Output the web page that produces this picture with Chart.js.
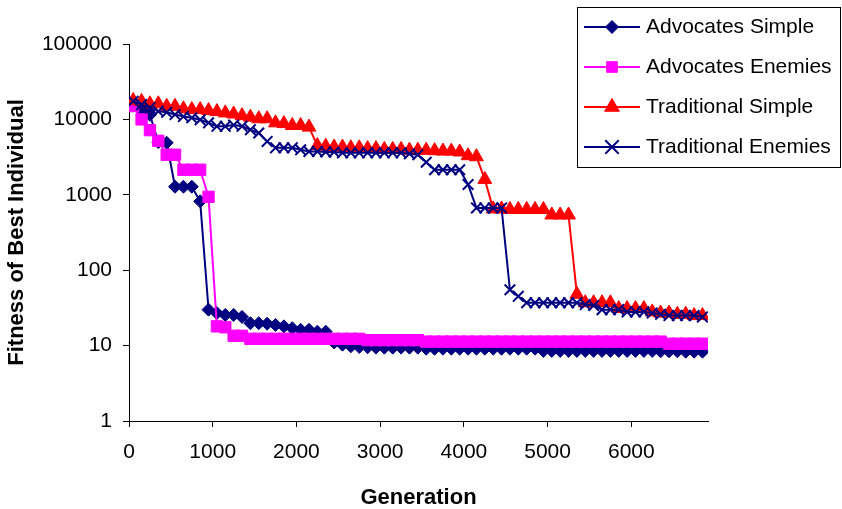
<!DOCTYPE html>
<html>
<head>
<meta charset="utf-8">
<script src="https://cdn.jsdelivr.net/npm/chart.js@4.4.1/dist/chart.umd.min.js"></script>
<style>
  html, body { margin: 0; padding: 0; background: #fff; }
  #wrap { width: 842px; height: 509px; position: relative; }
</style>
</head>
<body>
<div id="wrap"><canvas id="fitnessChart"></canvas></div>
<script>
// Generation of each sample (one every 100)
const generations = [
    50, 150, 250, 350, 450, 550, 650, 750, 850, 950,
    1050, 1150, 1250, 1350, 1450, 1550, 1650, 1750, 1850, 1950,
    2050, 2150, 2250, 2350, 2450, 2550, 2650, 2750, 2850, 2950,
    3050, 3150, 3250, 3350, 3450, 3550, 3650, 3750, 3850, 3950,
    4050, 4150, 4250, 4350, 4450, 4550, 4650, 4750, 4850, 4950,
    5050, 5150, 5250, 5350, 5450, 5550, 5650, 5750, 5850, 5950,
    6050, 6150, 6250, 6350, 6450, 6550, 6650, 6750, 6850
];

const advocatesSimple = [
    16000, 13500, 11500, 5000, 4900, 1280, 1280, 1280, 820, 30,
    27, 25.5, 25.5, 24, 19.8, 19.8, 19.5, 18.8, 18, 17,
    16.2, 16.2, 15.3, 15.3, 11, 10.3, 9.8, 9.6, 9.5, 9.4,
    9.4, 9.4, 9.4, 9.4, 9.4, 9.1, 9.1, 9.1, 9.1, 9.1,
    9.1, 9.1, 9.1, 9.1, 9.1, 9.1, 9.1, 9.1, 9.1, 8.5,
    8.5, 8.5, 8.5, 8.5, 8.5, 8.5, 8.5, 8.5, 8.5, 8.5,
    8.5, 8.5, 8.5, 8.4, 8.4, 8.4, 8.3, 8.3, 8.3
];

const advocatesEnemies = [
    15000, 10000, 7200, 5200, 3400, 3400, 2150, 2150, 2150, 940,
    18, 17.5, 13.5, 13.5, 12.3, 12.3, 12.3, 12.3, 12.3, 12.3,
    12.3, 12.3, 12.3, 12.3, 12.3, 12.3, 12.3, 12.3, 11.8, 11.8,
    11.8, 11.8, 11.8, 11.8, 11.8, 11.3, 11.3, 11.3, 11.3, 11.3,
    11.3, 11.3, 11.3, 11.3, 11.3, 11.3, 11.3, 11.3, 11.3, 11.3,
    11.3, 11.3, 11.3, 11.3, 11.3, 11.3, 11.3, 11.3, 11.3, 11.3,
    11.3, 11.3, 11.3, 11.3, 10.6, 10.6, 10.6, 10.6, 10.6
];

const traditionalSimple = [
    17800, 17300, 16100, 16100, 14900, 14900, 13800, 13500, 13500, 13100,
    12700, 12200, 11800, 11200, 10700, 10200, 10200, 9000, 8800, 8300,
    8300, 7900, 4500, 4400, 4300, 4300, 4200, 4200, 4100, 4100,
    4000, 4000, 4000, 3900, 3900, 3900, 3850, 3800, 3800, 3700,
    3300, 3200, 1600, 650, 650, 640, 640, 640, 640, 640,
    540, 540, 540, 48, 37, 37, 37, 37, 31, 31,
    31, 31, 28, 27, 27, 26, 26, 25, 25
];

const traditionalEnemies = [
    17400, 15700, 14300, 12800, 12400, 11600, 10900, 10500, 9900, 9000,
    8100, 8100, 8400, 8100, 7300, 6600, 5100, 4200, 4200, 4200,
    3950, 3750, 3750, 3700, 3700, 3600, 3600, 3600, 3600, 3600,
    3600, 3600, 3600, 3500, 3400, 2700, 2150, 2150, 2150, 2150,
    1370, 670, 670, 670, 670, 55, 45, 37, 37, 37,
    37, 37, 37, 37, 35, 34, 30, 30, 30, 28,
    28, 28, 27, 26, 25, 25, 25, 25, 24
];

const seriesNames = ['Advocates Simple', 'Advocates Enemies', 'Traditional Simple', 'Traditional Enemies'];
const xTicks = [0, 1000, 2000, 3000, 4000, 5000, 6000];
const yTicks = [1, 10, 100, 1000, 10000, 100000];

const FONT = '"Liberation Sans", Arial, sans-serif';

function toPoints(values) {
    return values.map((v, i) => ({ x: generations[i], y: v }));
}

function makeSeries(label, values, color, style, radius, pointBorder, order) {
    return {
        label: label,
        data: toPoints(values),
        borderColor: color,
        backgroundColor: color,
        pointBackgroundColor: color,
        pointBorderColor: color,
        borderWidth: 2,
        pointStyle: style,
        pointRadius: radius,
        pointHoverRadius: radius,
        pointBorderWidth: pointBorder,
        tension: 0,
        order: order
    };
}

// legend box drawn at the top right, over the plot
const legendRadius = [6.5, 7.5, 8.5, 9.5];
const boxLegend = {
    id: 'boxLegend',
    afterDraw(chart) {
        const ctx = chart.ctx;
        ctx.save();
        ctx.strokeStyle = '#000';
        ctx.lineWidth = 1;
        ctx.strokeRect(577.5, 7.5, 263, 160);
        chart.data.datasets.forEach((ds, i) => {
            const y = 27 + i * 40;
            ctx.strokeStyle = ds.borderColor;
            ctx.lineWidth = 2;
            ctx.beginPath();
            ctx.moveTo(584, y);
            ctx.lineTo(640, y);
            ctx.stroke();
            ctx.fillStyle = ds.pointBackgroundColor;
            ctx.strokeStyle = ds.pointBorderColor;
            ctx.lineWidth = ds.pointBorderWidth;
            Chart.helpers.drawPoint(ctx, {
                pointStyle: ds.pointStyle,
                radius: legendRadius[i],
                rotation: 0,
                borderWidth: ds.pointBorderWidth
            }, 612, y);
            ctx.fillStyle = '#000';
            ctx.font = '21px ' + FONT;
            ctx.textAlign = 'left';
            ctx.textBaseline = 'middle';
            ctx.fillText(ds.label, 646, y);
        });
        ctx.restore();
    }
};

const ctx = document.getElementById('fitnessChart').getContext('2d');
const chart = new Chart(ctx, {
    type: 'line',
    data: {
        datasets: [
            makeSeries(seriesNames[0], advocatesSimple, '#000080', 'rectRot', 6.5, 1, 3),
            makeSeries(seriesNames[1], advocatesEnemies, '#FF00FF', 'rect', 8, 1, 2),
            makeSeries(seriesNames[2], traditionalSimple, '#FF0000', 'triangle', 8, 1, 1),
            makeSeries(seriesNames[3], traditionalEnemies, '#000080', 'crossRot', 7.5, 2, 0)
        ]
    },
    options: {
        responsive: true,
        maintainAspectRatio: false,
        animation: false,
        layout: { padding: { top: 44, right: 134, bottom: 0, left: 0 } },
        plugins: {
            legend: { display: false },
            tooltip: { enabled: false }
        },
        scales: {
            x: {
                type: 'linear',
                min: 0,
                max: 6916,
                afterBuildTicks: (scale) => { scale.ticks = xTicks.map(v => ({ value: v })); },
                afterFit: (scale) => { scale.height = 88; },
                ticks: {
                    color: '#000',
                    font: { family: FONT, size: 21 },
                    padding: 13,
                    maxRotation: 0,
                    callback: (v) => String(v)
                },
                grid: { drawOnChartArea: false, tickLength: 6, color: '#000' },
                border: { color: '#000', width: 1 },
                title: {
                    display: true,
                    text: 'Generation',
                    color: '#000',
                    font: { family: FONT, size: 22, weight: 'bold', lineHeight: 1 },
                    padding: 0
                }
            },
            y: {
                type: 'logarithmic',
                min: 1,
                max: 100000,
                afterBuildTicks: (scale) => { scale.ticks = yTicks.map(v => ({ value: v })); },
                afterFit: (scale) => { scale.width = 129; },
                ticks: {
                    color: '#000',
                    font: { family: FONT, size: 21 },
                    padding: 11,
                    callback: (v) => String(v)
                },
                grid: { drawOnChartArea: false, tickLength: 6, color: '#000' },
                border: { color: '#000', width: 1 },
                title: {
                    display: true,
                    text: 'Fitness of Best Individual',
                    color: '#000',
                    font: { family: FONT, size: 22, weight: 'bold', lineHeight: 1.2 },
                    padding: { top: 4, bottom: 0 }
                }
            }
        }
    },
    plugins: [boxLegend]
});
</script>
</body>
</html>
